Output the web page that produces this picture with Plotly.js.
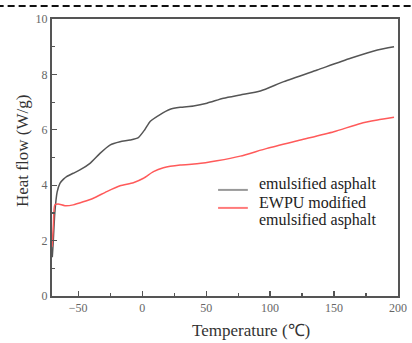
<!DOCTYPE html>
<html>
<head>
<meta charset="utf-8">
<script src="https://cdn.plot.ly/plotly-3.0.1.min.js"></script>
<style>html,body{margin:0;padding:0;background:#fff;}#chart{width:412px;height:343px;}</style>
</head>
<body>
<div id="chart"></div>
<script>
// Emulsified asphalt (black/gray curve)
var tempA = [-70.3, -69.6, -68.3, -66.5, -64.3, -61.5, -59.1, -53.9, -48.7, -40.8, -33.0, -25.2, -17.3, -9.5, -3.0, 2.0, 6.2, 14.0, 21.9, 29.7, 40.1, 50.6, 63.6, 76.7, 92.4, 110.7, 136.8, 162.9, 183.9, 196.9];
var heatA = [1.4, 1.9, 3.0, 3.75, 4.07, 4.22, 4.31, 4.43, 4.55, 4.79, 5.15, 5.45, 5.57, 5.63, 5.72, 6.0, 6.3, 6.55, 6.74, 6.81, 6.86, 6.96, 7.14, 7.26, 7.4, 7.74, 8.16, 8.58, 8.88, 9.0];
// EWPU modified emulsified asphalt (red curve)
var tempB = [-70.4, -69.4, -68.3, -65.7, -60.4, -53.9, -46.1, -38.2, -27.7, -17.3, -6.9, 1.0, 8.8, 16.6, 29.7, 42.8, 58.5, 76.7, 97.6, 123.7, 149.8, 170.8, 183.9, 196.9];
var heatB = [1.78, 2.6, 3.29, 3.32, 3.26, 3.29, 3.4, 3.53, 3.77, 3.98, 4.09, 4.25, 4.49, 4.63, 4.73, 4.77, 4.88, 5.05, 5.33, 5.63, 5.93, 6.23, 6.35, 6.45];
var seriesNames = ['emulsified asphalt', 'EWPU modified', 'emulsified asphalt'];
var xTitle = 'Temperature (℃)';
var yTitle = 'Heat flow (W/g)';

var font = 'Liberation Serif, Times New Roman, serif';
var traces = [
  {x: tempA, y: heatA, mode: 'lines', name: seriesNames[0], line: {color: '#555555', width: 1.5, shape: 'spline', smoothing: 0.6}},
  {x: tempB, y: heatB, mode: 'lines', name: seriesNames[1], line: {color: '#ff5a5a', width: 1.5, shape: 'spline', smoothing: 0.6}}
];
var axisCommon = {
  showgrid: false, zeroline: false, showline: true, mirror: true,
  linecolor: '#555555', linewidth: 2, ticks: 'inside', ticklen: 5, tickwidth: 1.2, tickcolor: '#555555',
  tickfont: {family: font, size: 12, color: '#666666'}
};
var legFont = {family: font, size: 16, color: '#222222'};
function legText(t, y) {
  return {text: t, xref: 'paper', yref: 'paper', x: 0.595, y: y, xanchor: 'left', yanchor: 'middle',
    showarrow: false, font: legFont, borderpad: 0};
}
var layout = {
  width: 412, height: 343,
  margin: {l: 52, r: 14, t: 19, b: 47},
  paper_bgcolor: '#ffffff', plot_bgcolor: '#ffffff',
  showlegend: false,
  xaxis: Object.assign({}, axisCommon, {
    range: [-70.5, 200], tickvals: [-50, 0, 50, 100, 150, 200],
    minor: {dtick: 25, tick0: 0, ticks: 'inside', ticklen: 3, tickcolor: '#555555'}
  }),
  yaxis: Object.assign({}, axisCommon, {
    range: [0, 10], dtick: 2, tick0: 0,
    minor: {dtick: 1, tick0: 0, ticks: 'inside', ticklen: 3, tickcolor: '#555555'}
  }),
  annotations: [
    {text: xTitle, xref: 'paper', yref: 'paper', x: 0.575, y: -0.126, xanchor: 'center', yanchor: 'middle', showarrow: false,
      font: {family: font, size: 17, color: '#333333'}},
    {text: yTitle, xref: 'paper', yref: 'paper', x: -0.087, y: 0.523, xanchor: 'center', yanchor: 'middle', textangle: -90, showarrow: false,
      font: {family: font, size: 17, color: '#333333'}},
    legText(seriesNames[0], 0.404),
    legText(seriesNames[1], 0.339),
    legText(seriesNames[2], 0.274)
  ],
  shapes: [
    {type: 'line', xref: 'paper', yref: 'paper', x0: -0.16, x1: 1.05, y0: 1.047, y1: 1.047,
      line: {color: '#111111', width: 2, dash: '7px,4px'}},
    {type: 'line', xref: 'paper', yref: 'paper', x0: 0.480, x1: 0.566, y0: 0.383, y1: 0.383, line: {color: '#999999', width: 2}},
    {type: 'line', xref: 'paper', yref: 'paper', x0: 0.480, x1: 0.566, y0: 0.318, y1: 0.318, line: {color: '#ff7b7b', width: 2}}
  ]
};
Plotly.newPlot('chart', traces, layout, {displayModeBar: false, staticPlot: true});
</script>
</body>
</html>
